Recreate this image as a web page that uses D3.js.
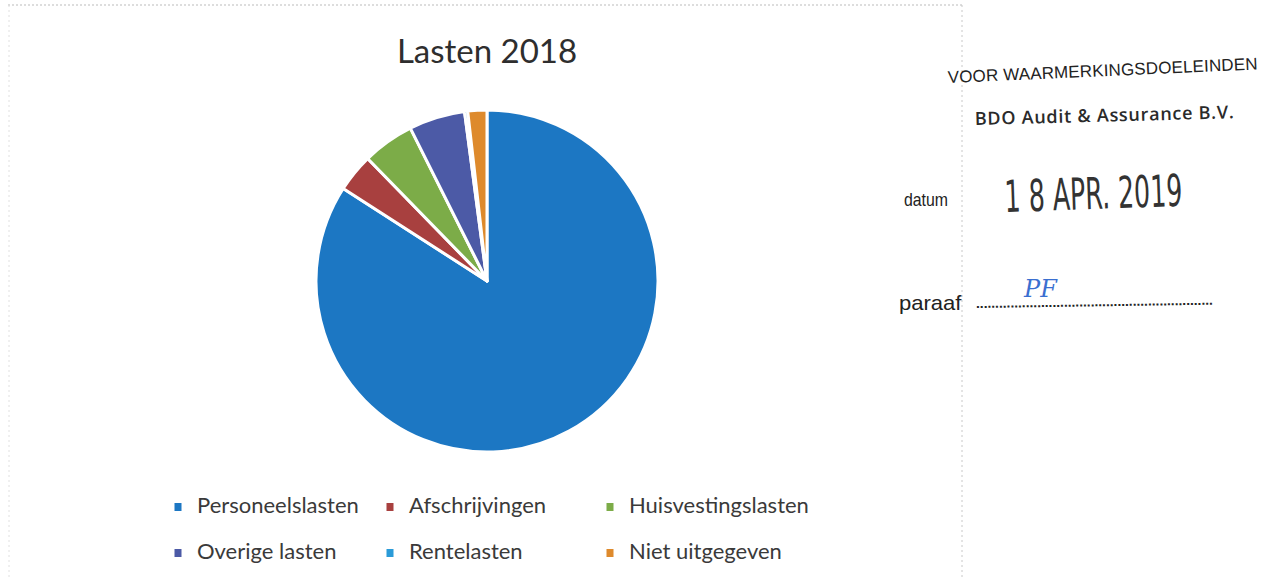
<!DOCTYPE html>
<html><head><meta charset="utf-8">
<script src="https://cdn.jsdelivr.net/npm/d3@7"></script>
<style>
html,body{margin:0;padding:0;background:#fff;}
svg{display:block;}
</style></head>
<body>
<svg id="c" width="1264" height="580"></svg>
<script>
const title = "Lasten 2018";
const categories = ["Personeelslasten","Afschrijvingen","Huisvestingslasten","Overige lasten","Rentelasten","Niet uitgegeven"];
const values = [84.1, 3.6, 4.9, 5.3, 0.3, 1.8];
const colors = ["#1c77c3","#a8403f","#7cac48","#4c5aa6","#2b9bd8","#de8a2c"];

const svg = d3.select("#c");

// scanned frame lines
svg.append("line").attr("x1",8).attr("x2",962).attr("y1",5).attr("y2",5)
  .attr("stroke","#bbb").attr("stroke-width",1).attr("stroke-dasharray","2,2");
svg.append("line").attr("x1",962).attr("x2",962).attr("y1",5).attr("y2",580)
  .attr("stroke","#c8c8c8").attr("stroke-width",1).attr("stroke-dasharray","2,3");
svg.append("line").attr("x1",9).attr("x2",9).attr("y1",5).attr("y2",580)
  .attr("stroke","#e0e0e0").attr("stroke-width",1).attr("stroke-dasharray","2,3");

// title
svg.append("text").attr("x",487).attr("y",63).attr("text-anchor","middle")
  .attr("font-family","Lato, 'Open Sans', sans-serif").attr("font-size",33)
  .attr("fill","#2e2e2e").text(title);

// pie
const cx = 487, cy = 281, R = 171;
const pie = d3.pie().sort(null).value(d => d).startAngle(0).endAngle(2*Math.PI);
const arc = d3.arc().innerRadius(0).outerRadius(R);
const g = svg.append("g").attr("transform",`translate(${cx},${cy})`);
g.selectAll("path").data(pie(values)).join("path")
  .attr("d",arc).attr("fill",(d,i)=>colors[i])
  .attr("stroke","#fff").attr("stroke-width",3).attr("stroke-linejoin","round");

// legend
const colX = [178, 390, 610];
const rowY = [507, 553];
const lg = svg.append("g").attr("font-family","Lato, 'Open Sans', sans-serif").attr("font-size",22).attr("fill","#3a3a3a");
categories.forEach((c,i)=>{
  const x = colX[i%3], y = rowY[Math.floor(i/3)];
  lg.append("rect").attr("x",x-3.5).attr("y",y-4).attr("width",7).attr("height",8).attr("fill",colors[i]);
  lg.append("text").attr("x",x+19).attr("y",y+6).text(c);
});

// stamp
const st = svg.append("g").attr("font-family","'Liberation Sans', Arial, sans-serif").attr("fill","#222");
st.append("text").attr("x",948).attr("y",83).attr("font-size",17).attr("textLength",310)
  .attr("transform","rotate(-2.5 948 83)").text("VOOR WAARMERKINGSDOELEINDEN");
st.append("text").attr("x",975).attr("y",125).attr("font-size",18).attr("font-weight",600).attr("textLength",259)
  .attr("font-family","'Open Sans', sans-serif").attr("fill","#2a2a2a")
  .attr("transform","rotate(-1.5 975 125)").text("BDO Audit & Assurance B.V.");
st.append("text").attr("x",0).attr("y",0).attr("font-size",18)
  .attr("transform","translate(904 206) scale(0.88 1)").text("datum");
st.append("text").attr("x",0).attr("y",0).attr("font-size",44)
  .attr("font-family","'DejaVu Sans Condensed','Liberation Sans Narrow', sans-serif").attr("fill","#333")
  .attr("transform","translate(1005 212) rotate(-2) scale(0.64 1)").text("1 8 APR.  2019");
st.append("text").attr("x",0).attr("y",0).attr("font-size",21)
  .attr("transform","translate(899 310) scale(1.05 1)").text("paraaf");
st.append("text").attr("x",976).attr("y",308).attr("font-size",14).attr("font-weight","bold").attr("textLength",237)
  .attr("transform","rotate(-0.8 976 308)").text("..............................................................");
st.append("text").attr("x",1024).attr("y",297).attr("font-size",24).attr("fill","#3a6fd0")
  .attr("font-style","italic").attr("font-family","'DejaVu Serif', serif").text("PF");
</script>
</body></html>
